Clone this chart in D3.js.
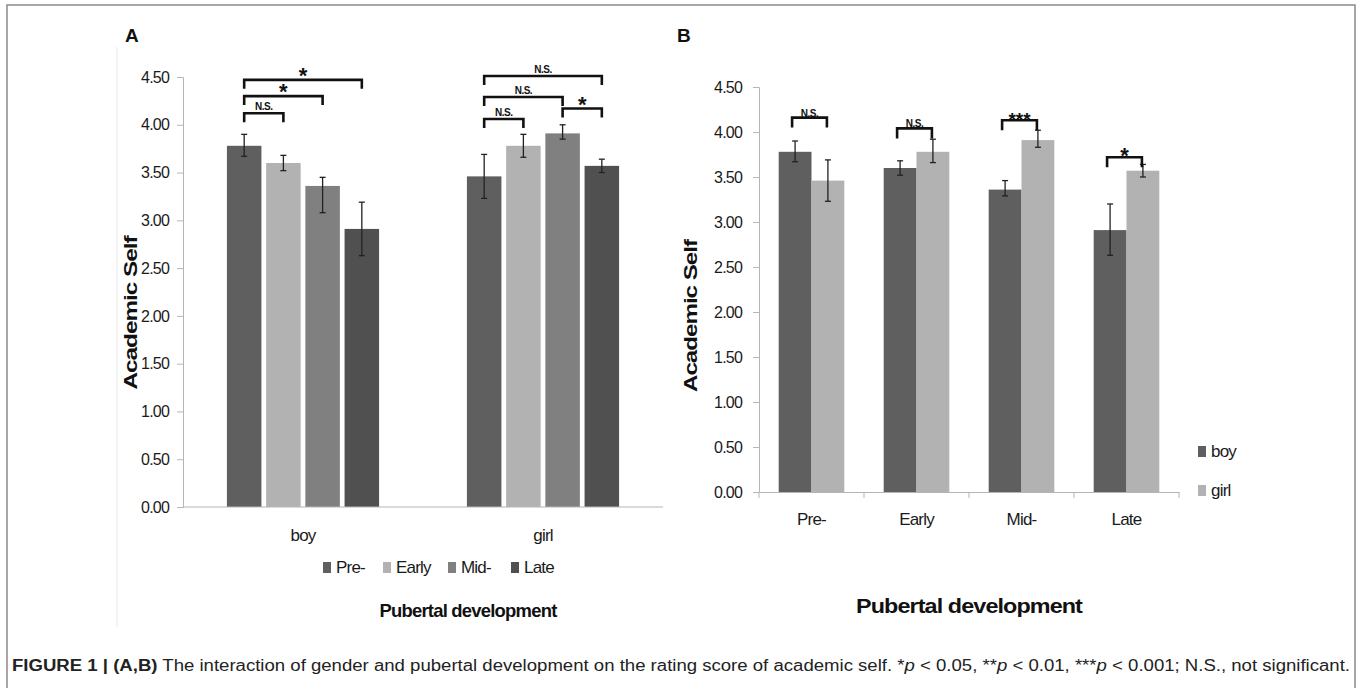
<!DOCTYPE html>
<html>
<head>
<meta charset="utf-8">
<script src="https://cdn.jsdelivr.net/npm/d3@7"></script>
<style>
body { margin: 0; background: #fff; }
svg { display: block; }
.narrow { font-family: 'Liberation Sans', Arial, sans-serif; letter-spacing: -0.8px; }
.cap { font-family: 'Liberation Sans', Arial, sans-serif; }
</style>
</head>
<body>
<svg width="1357" height="688"></svg>
<script>
'use strict'

const stages = ['Pre-', 'Early', 'Mid-', 'Late']
const genders = ['boy', 'girl']
const boyMeans = [3.78, 3.60, 3.36, 2.91]
const girlMeans = [3.46, 3.78, 3.91, 3.57]

// error bar ends as drawn in panel A
const boyHiA = [3.90, 3.68, 3.45, 3.19]
const boyLoA = [3.67, 3.52, 3.08, 2.63]
const girlHiA = [3.69, 3.90, 4.00, 3.64]
const girlLoA = [3.23, 3.66, 3.85, 3.50]
// ... and in panel B
const boyHiB = [3.90, 3.68, 3.46, 3.20]
const boyLoB = [3.67, 3.52, 3.29, 2.63]
const girlHiB = [3.69, 3.92, 4.02, 3.64]
const girlLoB = [3.23, 3.66, 3.83, 3.50]

const yTicks = [0, 0.5, 1, 1.5, 2, 2.5, 3, 3.5, 4, 4.5]

// [group, from, to, bracket height, label]
const bracketsA = [
    ['boy', 'Pre-', 'Late', 4.47, '*'],
    ['boy', 'Pre-', 'Mid-', 4.30, '*'],
    ['boy', 'Pre-', 'Early', 4.12, 'N.S.'],
    ['girl', 'Pre-', 'Late', 4.51, 'N.S.'],
    ['girl', 'Pre-', 'Mid-', 4.29, 'N.S.'],
    ['girl', 'Pre-', 'Early', 4.06, 'N.S.'],
    ['girl', 'Mid-', 'Late', 4.17, '*']
]
// [stage, bracket height, label]
const bracketsB = [
    ['Pre-', 4.16, 'N.S.'],
    ['Early', 4.04, 'N.S.'],
    ['Mid-', 4.13, '***'],
    ['Late', 3.72, '*']
]

const stageColor = d3.scaleOrdinal().domain(stages).range(['#5f5f5f', '#b2b2b2', '#808080', '#505050'])
const genderColor = d3.scaleOrdinal().domain(genders).range(['#5f5f5f', '#b2b2b2'])

const svg = d3.select('svg')

// figure frame
svg.append('rect').attr('x', 7).attr('y', 5).attr('width', 1348).attr('height', 700)
    .attr('fill', 'none').attr('stroke', '#8a8a8a').attr('stroke-width', 1.5)
svg.append('line').attr('x1', 117).attr('x2', 117).attr('y1', 47).attr('y2', 627)
    .attr('stroke', '#e8e8e8')

function rowsFor(hiB, loB, hiG, loG) {
    return genders.flatMap(g => stages.map((s, i) => ({
        g, s,
        mean: g === 'boy' ? boyMeans[i] : girlMeans[i],
        hi: g === 'boy' ? hiB[i] : hiG[i],
        lo: g === 'boy' ? loB[i] : loG[i]
    })))
}

function styleYAxis(sel) {
    sel.select('.domain').attr('stroke', '#b5b5b5')
    sel.selectAll('.tick line').attr('stroke', '#b5b5b5')
    sel.selectAll('.tick text').attr('class', 'narrow').attr('font-size', 16).attr('fill', '#1a1a1a')
}

function errorBars(g, rows, x, y, w) {
    const eb = g.append('g').attr('stroke', '#222').attr('stroke-width', 1.3)
    rows.forEach(d => {
        const cx = x(d)
        eb.append('line').attr('x1', cx).attr('x2', cx).attr('y1', y(d.hi)).attr('y2', y(d.lo))
        eb.append('line').attr('x1', cx - w).attr('x2', cx + w).attr('y1', y(d.hi)).attr('y2', y(d.hi))
        eb.append('line').attr('x1', cx - w).attr('x2', cx + w).attr('y1', y(d.lo)).attr('y2', y(d.lo))
    })
}

function bracket(g, x1, x2, yy, hook, label, nsDy, starDy, starSize) {
    g.append('path')
        .attr('d', `M${x1},${yy + hook}V${yy}H${x2}V${yy + hook}`)
        .attr('fill', 'none').attr('stroke', '#111').attr('stroke-width', 2.6)
    const ns = label === 'N.S.'
    g.append('text').attr('class', 'narrow')
        .attr('x', (x1 + x2) / 2).attr('y', yy + (ns ? nsDy : starDy))
        .attr('text-anchor', 'middle').attr('font-weight', 'bold')
        .attr('font-size', ns ? 10 : starSize).attr('fill', '#111')
        .style('letter-spacing', ns ? '-0.5px' : '0px')
        .text(label)
}

// ---------- Panel A ----------
const yA = d3.scaleLinear().domain([0, 4.5]).range([507, 77])
const xA = d3.scaleBand().domain(genders).range([183, 663])
const xA1 = d3.scaleBand().domain(stages).range([0, xA.bandwidth()]).paddingInner(0.12).paddingOuter(1.12)
const rowsA = rowsFor(boyHiA, boyLoA, girlHiA, girlLoA)
const gA = svg.append('g')

gA.append('g').attr('transform', 'translate(183,0)')
    .call(d3.axisLeft(yA).tickValues(yTicks).tickFormat(d3.format('.2f')).tickSize(6).tickPadding(8))
    .call(styleYAxis)

gA.selectAll('rect.bar').data(rowsA).enter().append('rect')
    .attr('class', 'bar')
    .attr('x', d => xA(d.g) + xA1(d.s))
    .attr('y', d => yA(d.mean))
    .attr('width', xA1.bandwidth())
    .attr('height', d => yA(0) - yA(d.mean))
    .attr('fill', d => stageColor(d.s))

gA.append('line').attr('x1', 183).attr('x2', 663).attr('y1', yA(0)).attr('y2', yA(0))
    .attr('stroke', '#b5b5b5').attr('stroke-width', 1.2)

errorBars(gA, rowsA, d => xA(d.g) + xA1(d.s) + xA1.bandwidth() / 2, yA, 3)

bracketsA.forEach(b => {
    const cx = s => xA(b[0]) + xA1(s) + xA1.bandwidth() / 2
    bracket(gA, cx(b[1]), cx(b[2]), yA(b[3]), 9, b[4], -3, 3, 22)
})

gA.selectAll('text.xlab').data(genders).enter().append('text')
    .attr('class', 'narrow').attr('x', d => xA(d) + xA.bandwidth() / 2).attr('y', 541)
    .attr('text-anchor', 'middle').attr('font-size', 17).attr('fill', '#1a1a1a').text(d => d)

const legA = gA.selectAll('g.leg').data(stages).enter().append('g')
    .attr('transform', (d, i) => `translate(${[323, 383, 448, 511][i]},562)`)
legA.append('rect').attr('width', 8).attr('height', 11).attr('fill', d => stageColor(d))
legA.append('text').attr('class', 'narrow').attr('x', 13).attr('y', 11)
    .attr('font-size', 17).attr('fill', '#1a1a1a').text(d => d)

gA.append('text').attr('class', 'narrow').attr('x', 468).attr('y', 617)
    .attr('text-anchor', 'middle').attr('font-weight', 'bold').attr('font-size', 19)
    .attr('textLength', 177).attr('lengthAdjust', 'spacingAndGlyphs').attr('fill', '#111')
    .text('Pubertal development')

gA.append('text').attr('class', 'narrow')
    .attr('transform', 'translate(130,313) rotate(-90)').attr('dy', '0.35em')
    .attr('text-anchor', 'middle').attr('font-weight', 'bold').attr('font-size', 19)
    .attr('textLength', 153).attr('lengthAdjust', 'spacingAndGlyphs').attr('fill', '#111')
    .text('Academic Self')

// ---------- Panel B ----------
const yB = d3.scaleLinear().domain([0, 4.5]).range([492, 87])
const xB = d3.scaleBand().domain(stages).range([759, 1179])
const xB1 = d3.scaleBand().domain(genders).range([0, xB.bandwidth()]).paddingOuter(0.6)
const rowsB = rowsFor(boyHiB, boyLoB, girlHiB, girlLoB)
const gB = svg.append('g')

gB.append('g').attr('transform', 'translate(759,0)')
    .call(d3.axisLeft(yB).tickValues(yTicks).tickFormat(d3.format('.2f')).tickSize(6).tickPadding(11))
    .call(styleYAxis)

gB.selectAll('rect.bar').data(rowsB).enter().append('rect')
    .attr('class', 'bar')
    .attr('x', d => xB(d.s) + xB1(d.g))
    .attr('y', d => yB(d.mean))
    .attr('width', xB1.bandwidth())
    .attr('height', d => yB(0) - yB(d.mean))
    .attr('fill', d => genderColor(d.g))

const xAxisB = gB.append('g').attr('transform', `translate(0,${yB(0)})`)
    .call(d3.axisBottom(xB).tickSize(0).tickPadding(21))
xAxisB.select('.domain').attr('stroke', '#b5b5b5').attr('stroke-width', 1.2)
xAxisB.selectAll('.tick text').attr('class', 'narrow').attr('font-size', 17).attr('fill', '#1a1a1a')
// category separator ticks
gB.selectAll('line.sep').data(d3.range(stages.length + 1)).enter().append('line')
    .attr('x1', i => 759 + i * xB.step()).attr('x2', i => 759 + i * xB.step())
    .attr('y1', yB(0)).attr('y2', yB(0) + 6).attr('stroke', '#b5b5b5')

errorBars(gB, rowsB, d => xB(d.s) + xB1(d.g) + xB1.bandwidth() / 2, yB, 3)

bracketsB.forEach(b => {
    const x1 = xB(b[0]) + xB1('boy') + xB1.bandwidth() / 2
    const x2 = xB(b[0]) + xB1('girl') + xB1.bandwidth() / 2
    bracket(gB, x1 - 3, x2 - 1, yB(b[1]), 10, b[2], -1, 6, b[2] === '***' ? 19 : 22)
})

const legB = gB.selectAll('g.leg').data(genders).enter().append('g')
    .attr('transform', (d, i) => `translate(1198,${446 + i * 39})`)
legB.append('rect').attr('width', 8).attr('height', 11).attr('fill', d => genderColor(d))
legB.append('text').attr('class', 'narrow').attr('x', 13).attr('y', 11)
    .attr('font-size', 17).attr('fill', '#1a1a1a').text(d => d)

gB.append('text').attr('class', 'narrow').attr('x', 969).attr('y', 613)
    .attr('text-anchor', 'middle').attr('font-weight', 'bold').attr('font-size', 21)
    .attr('textLength', 226).attr('lengthAdjust', 'spacingAndGlyphs').attr('fill', '#111')
    .text('Pubertal development')

gB.append('text').attr('class', 'narrow')
    .attr('transform', 'translate(690,316) rotate(-90)').attr('dy', '0.35em')
    .attr('text-anchor', 'middle').attr('font-weight', 'bold').attr('font-size', 19)
    .attr('textLength', 152).attr('lengthAdjust', 'spacingAndGlyphs').attr('fill', '#111')
    .text('Academic Self')

// panel letters
svg.append('text').attr('class', 'cap').attr('x', 125).attr('y', 42)
    .attr('font-weight', 'bold').attr('font-size', 19).attr('fill', '#111').text('A')
svg.append('text').attr('class', 'cap').attr('x', 677).attr('y', 42)
    .attr('font-weight', 'bold').attr('font-size', 19).attr('fill', '#111').text('B')

// caption
const cap = svg.append('text').attr('class', 'cap').attr('x', 12).attr('y', 671)
    .attr('font-size', 16).attr('fill', '#222')
    .attr('textLength', 1338).attr('lengthAdjust', 'spacingAndGlyphs')
cap.append('tspan').attr('font-weight', 'bold').text('FIGURE 1 | (A,B)')
cap.append('tspan').text(' The interaction of gender and pubertal development on the rating score of academic self. *')
cap.append('tspan').attr('font-style', 'italic').text('p')
cap.append('tspan').text(' < 0.05, **')
cap.append('tspan').attr('font-style', 'italic').text('p')
cap.append('tspan').text(' < 0.01, ***')
cap.append('tspan').attr('font-style', 'italic').text('p')
cap.append('tspan').text(' < 0.001; N.S., not significant.')
</script>
</body>
</html>
